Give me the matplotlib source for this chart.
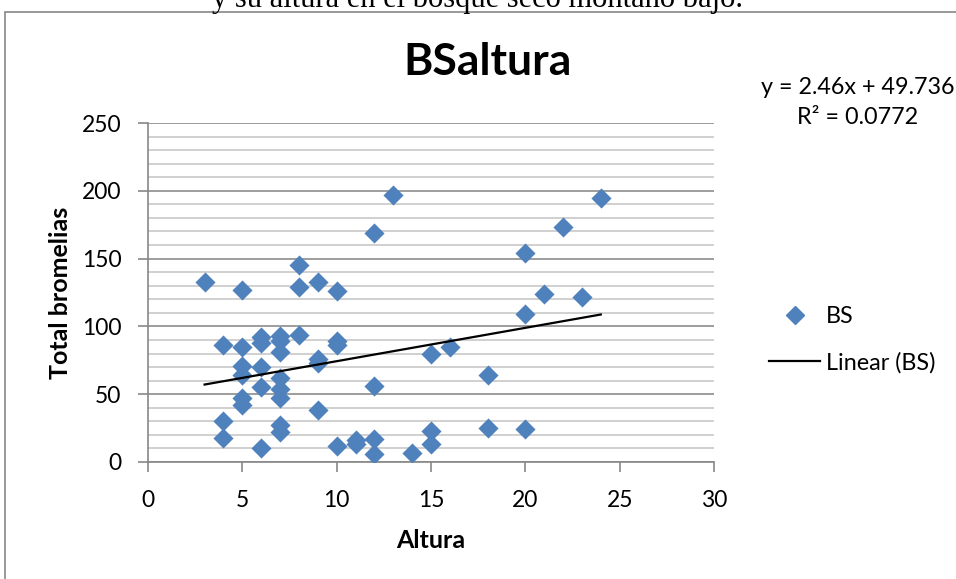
import matplotlib
matplotlib.use('Agg')
import matplotlib.pyplot as plt
from matplotlib.patches import Rectangle
from matplotlib.lines import Line2D

plt.rcParams['font.family'] = ['Lato', 'DejaVu Sans']

# datos
altura = [3,
          4, 4, 4,
          5, 5, 5, 5, 5, 5,
          6, 6, 6, 6, 6,
          7, 7, 7, 7, 7, 7, 7, 7,
          8, 8, 8,
          9, 9, 9, 9,
          10, 10, 10, 10,
          11, 11,
          12, 12, 12, 12,
          13, 14,
          15, 15, 15,
          16,
          18, 18,
          20, 20, 20,
          21, 22, 23, 24]
bromelias = [133,
             86, 30, 18,
             127, 85, 71, 64, 47, 42,
             92, 88, 70, 55, 10,
             93, 89, 81, 62, 54, 47, 27, 22,
             145, 129, 94,
             133, 76, 73, 38,
             126, 89, 86, 12,
             16, 13,
             169, 56, 17, 6,
             197, 7,
             80, 23, 13,
             85,
             64, 25,
             154, 109, 24,
             124, 173, 122, 195]

pendiente = 2.46
intercepto = 49.736
r2 = 0.0772

azul = '#4F81BD'
gris = '#878787'

fig = plt.figure(figsize=(9.56, 5.79), dpi=100)

# texto cortado del documento arriba
fig.text(0.5, 1 - 7.5 / 579, 'y su altura en el bosque seco montano bajo.',
         ha='center', va='baseline', fontsize=22, family='Liberation Serif')

# marco del grafico
fig.patches.append(Rectangle((5 / 956, -0.1), 1.2, 1 - 12 / 579 + 0.1,
                             transform=fig.transFigure, fill=False,
                             edgecolor=gris, linewidth=1.2))

ax = fig.add_axes([148 / 956, 1 - 462 / 579, 566 / 956, 339 / 579])

ax.scatter(altura, bromelias, marker='D', s=105, color=azul, zorder=3,
           linewidths=0)
x0, x1 = min(altura), max(altura)
ax.plot([x0, x1], [pendiente * x0 + intercepto, pendiente * x1 + intercepto],
        color='black', lw=1.6, zorder=4)

ax.set_xlim(0, 30)
ax.set_ylim(0, 250)
ax.set_xticks(range(0, 31, 5))
ax.set_yticks(range(0, 251, 50))
ax.set_yticks(range(0, 251, 10), minor=True)
ax.grid(axis='y', which='major', color='#8c8c8c', lw=1.2, zorder=0)
ax.grid(axis='y', which='minor', color='#c8c8c8', lw=1.2, zorder=0)
ax.tick_params(axis='y', which='minor', length=0)
ax.tick_params(which='major', length=7, width=1.2, color=gris,
               labelsize=16.5)
ax.tick_params(axis='x', pad=13)
ax.tick_params(axis='y', pad=12)
for s in ['top', 'right']:
    ax.spines[s].set_visible(False)
for s in ['left', 'bottom']:
    ax.spines[s].set_color(gris)
    ax.spines[s].set_linewidth(1.2)

ax.set_xlabel('Altura', fontsize=18, fontweight='bold', labelpad=13)
ax.set_ylabel('Total bromelias', fontsize=18, fontweight='bold', labelpad=7)

fig.text(488 / 956, 1 - 62 / 579, 'BSaltura', ha='center', va='center',
         fontsize=32, fontweight='bold')

fig.text(858 / 956, 1 - 88 / 579,
         'y = %.2fx + %.3f' % (pendiente, intercepto),
         ha='center', va='center', fontsize=16.8)
fig.text(858 / 956, 1 - 117 / 579, 'R\u00b2 = %.4f' % r2,
         ha='center', va='center', fontsize=16.8)

# leyenda
handles = [Line2D([], [], marker='D', color=azul, ls='none', markersize=9),
           Line2D([], [], color='black', lw=1.6)]
fig.legend(handles, ['BS', 'Linear (BS)'], loc='center left',
           bbox_to_anchor=(769 / 956, 1 - 340 / 579), frameon=False,
           borderpad=0, borderaxespad=0,
           fontsize=16.8, handlelength=2.2, labelspacing=1.05,
           handletextpad=0.25)

fig.savefig('out.png', dpi=100)
